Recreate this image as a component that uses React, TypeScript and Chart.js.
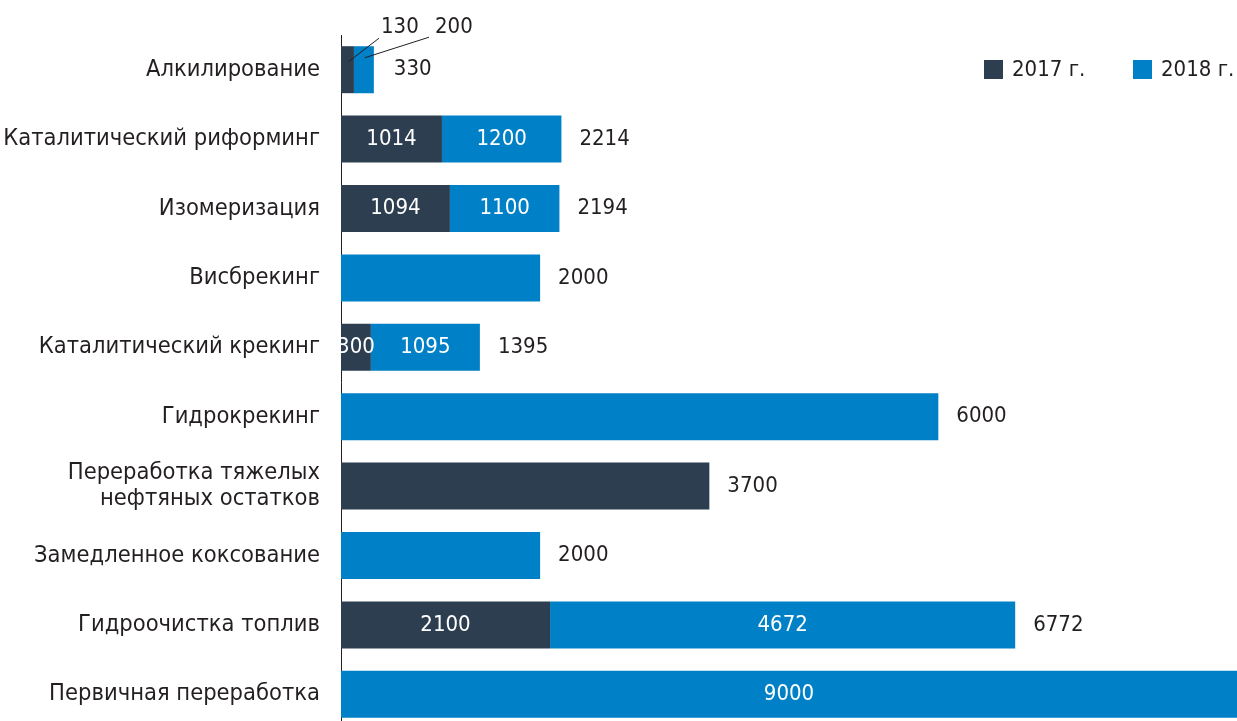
import React, { useEffect, useRef } from "react";
import { Chart, registerables } from "chart.js";

Chart.register(...registerables);

const categories: (string | string[])[] = [
  "Алкилирование",
  "Каталитический риформинг",
  "Изомеризация",
  "Висбрекинг",
  "Каталитический крекинг",
  "Гидрокрекинг",
  ["Переработка тяжелых", "нефтяных остатков"],
  "Замедленное коксование",
  "Гидроочистка топлив",
  "Первичная переработка",
];
const values2017 = [130, 1014, 1094, 0, 300, 0, 3700, 0, 2100, 0];
const values2018 = [200, 1200, 1100, 2000, 1095, 6000, 0, 2000, 4672, 9000];
const seriesLabels = ["2017 г.", "2018 г."];
const xMax = 9000;

const COLOR_2017 = "#2c3e50";
const COLOR_2018 = "#0080c6";
const TEXT = "#231f20";
const FAMILY = "'DejaVu Sans Condensed', 'Liberation Sans Narrow', 'Roboto', sans-serif";
const FSIZE = 22;
const CAT_FSIZE = 23.5;

const labelsPlugin = {
  id: "customLabels",
  afterDatasetsDraw(chart: any) {
    const ctx = chart.ctx as CanvasRenderingContext2D;
    const m0 = chart.getDatasetMeta(0);
    const m1 = chart.getDatasetMeta(1);
    ctx.save();
    ctx.font = `${FSIZE}px ${FAMILY}`;
    ctx.textBaseline = "middle";
    for (let j = 0; j < categories.length; j++) {
      const a = values2017[j];
      const b = values2018[j];
      const total = a + b;
      const e0 = m0.data[j];
      const e1 = m1.data[j];
      const y = e0.y;
      const base = e0.base;
      const endX = Math.max(e0.x, e1.x);
      const barTop = y - e0.height / 2;
      if (j === 0) {
        const c0 = (e0.base + e0.x) / 2;
        const c1 = (e1.base + e1.x) / 2;
        ctx.strokeStyle = TEXT;
        ctx.lineWidth = 1;
        ctx.beginPath();
        ctx.moveTo(c0 + 1, y - 8);
        ctx.lineTo(379, barTop - 8);
        ctx.moveTo(c1 + 1, y - 12);
        ctx.lineTo(429, barTop - 9);
        ctx.stroke();
        ctx.fillStyle = TEXT;
        ctx.textAlign = "left";
        ctx.fillText(String(a), 381, barTop - 19);
        ctx.fillText(String(b), 435, barTop - 19);
        ctx.fillText(String(total), endX + 20, y);
        continue;
      }
      if (a > 0 && b > 0) {
        ctx.fillStyle = "#ffffff";
        ctx.textAlign = "center";
        ctx.fillText(String(a), (e0.base + e0.x) / 2, y);
        ctx.fillText(String(b), (e1.base + e1.x) / 2, y);
      }
      const w = ctx.measureText(String(total)).width;
      if (endX + 18 + w > chart.chartArea.right) {
        ctx.fillStyle = "#ffffff";
        ctx.textAlign = "center";
        ctx.fillText(String(total), (base + endX) / 2, y);
      } else {
        ctx.fillStyle = TEXT;
        ctx.textAlign = "left";
        ctx.fillText(String(total), endX + 18, y);
      }
    }
    const colors = [COLOR_2017, COLOR_2018];
    const lx = [984, 1133];
    for (let i = 0; i < 2; i++) {
      ctx.fillStyle = colors[i];
      ctx.fillRect(lx[i], 60, 19, 19);
      ctx.fillStyle = TEXT;
      ctx.textAlign = "left";
      ctx.fillText(seriesLabels[i], lx[i] + 28, 70);
    }
    ctx.restore();
  },
};

export default function App() {
  const ref = useRef<HTMLCanvasElement | null>(null);
  useEffect(() => {
    if (!ref.current) return;
    const chart = new Chart(ref.current, {
      type: "bar",
      data: {
        labels: categories as any,
        datasets: [
          {
            label: seriesLabels[0],
            data: values2017,
            backgroundColor: COLOR_2017,
            borderWidth: 0,
            barPercentage: 0.677,
            categoryPercentage: 1,
          },
          {
            label: seriesLabels[1],
            data: values2018,
            backgroundColor: COLOR_2018,
            borderWidth: 0,
            barPercentage: 0.677,
            categoryPercentage: 1,
          },
        ],
      },
      options: {
        indexAxis: "y",
        responsive: false,
        animation: false,
        devicePixelRatio: 1,
        layout: { padding: { top: 35, bottom: 11, left: 0, right: 0 } },
        plugins: { legend: { display: false }, tooltip: { enabled: false } },
        scales: {
          x: {
            stacked: true,
            min: 0,
            max: xMax,
            display: false,
          },
          y: {
            stacked: true,
            grid: { display: false, drawTicks: false },
            border: { display: true, color: TEXT, width: 1 },
            ticks: {
              color: TEXT,
              padding: 21,
              font: { family: FAMILY, size: CAT_FSIZE, lineHeight: 1.1 },
            },
            afterFit(scale: any) {
              scale.width = 341;
              scale.paddingTop = 0;
              scale.paddingBottom = 0;
            },
          },
        },
      },
      plugins: [labelsPlugin],
    });
    return () => chart.destroy();
  }, []);
  return (
    <div
      style={{
        position: "fixed",
        left: 0,
        top: 0,
        width: 1237,
        height: 721,
        overflow: "hidden",
        background: "#ffffff",
      }}
    >
      <canvas ref={ref} width={1237} height={740} style={{ display: "block" }} />
    </div>
  );
}
